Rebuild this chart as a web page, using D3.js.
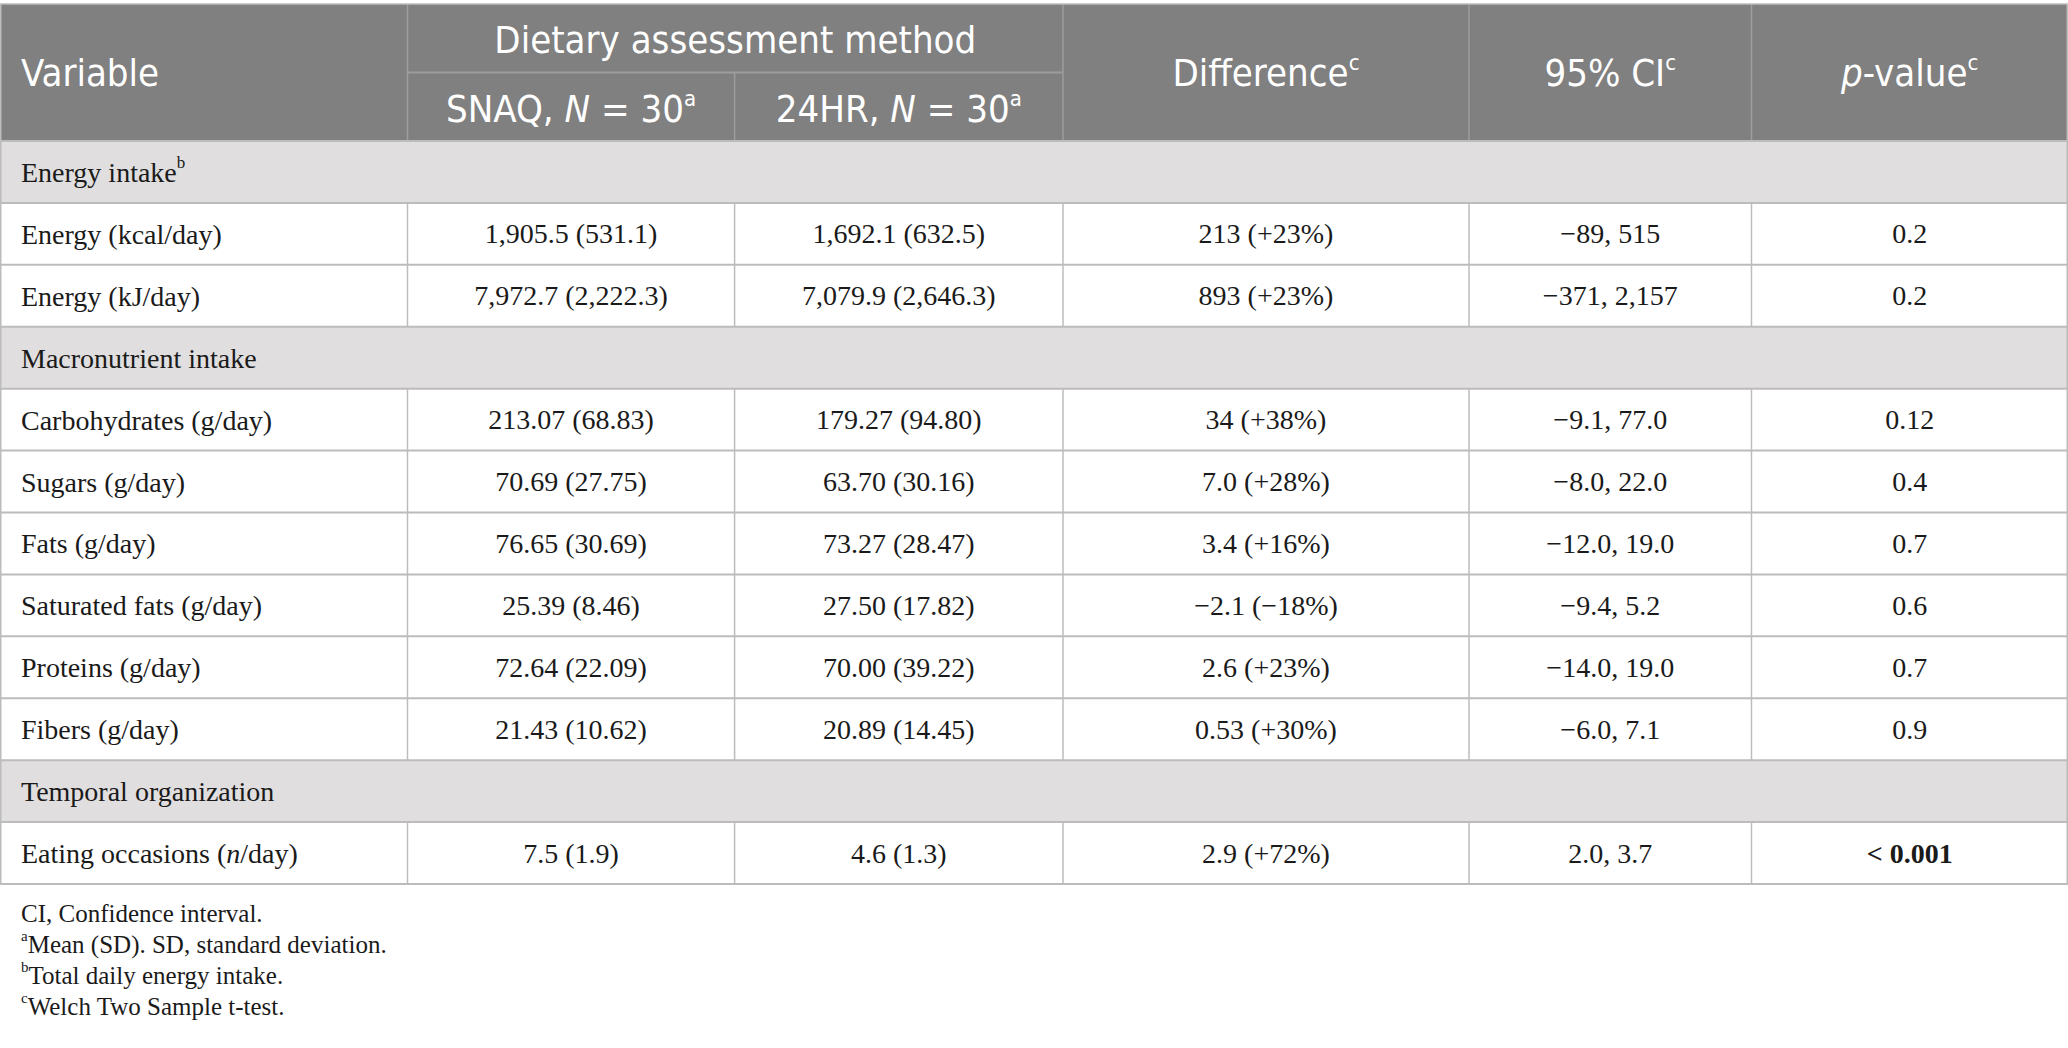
<!DOCTYPE html>
<html>
<head>
<meta charset="utf-8">
<script src="https://cdn.jsdelivr.net/npm/d3@7"></script>
<style>
  body { margin: 0; background: #fff; }
  svg { display: block; }
</style>
</head>
<body>
<svg id="table"></svg>
<script>
// table content
const headers = ["Variable", "Difference", "95% CI", "p-value"]
const groupHeader = "Dietary assessment method"
const subHeaders = ["SNAQ, ", "24HR, "]

const rowKinds = ["section", "row", "row", "section", "row", "row", "row", "row", "row", "row", "section", "row"]
const rowLabels = ["Energy intake", "Energy (kcal/day)", "Energy (kJ/day)", "Macronutrient intake",
    "Carbohydrates (g/day)", "Sugars (g/day)", "Fats (g/day)", "Saturated fats (g/day)",
    "Proteins (g/day)", "Fibers (g/day)", "Temporal organization", "Eating occasions (n/day)"]
const snaq = ["", "1,905.5 (531.1)", "7,972.7 (2,222.3)", "", "213.07 (68.83)", "70.69 (27.75)",
    "76.65 (30.69)", "25.39 (8.46)", "72.64 (22.09)", "21.43 (10.62)", "", "7.5 (1.9)"]
const hr24 = ["", "1,692.1 (632.5)", "7,079.9 (2,646.3)", "", "179.27 (94.80)", "63.70 (30.16)",
    "73.27 (28.47)", "27.50 (17.82)", "70.00 (39.22)", "20.89 (14.45)", "", "4.6 (1.3)"]
const difference = ["", "213 (+23%)", "893 (+23%)", "", "34 (+38%)", "7.0 (+28%)", "3.4 (+16%)",
    "\u22122.1 (\u221218%)", "2.6 (+23%)", "0.53 (+30%)", "", "2.9 (+72%)"]
const ci95 = ["", "\u221289, 515", "\u2212371, 2,157", "", "\u22129.1, 77.0", "\u22128.0, 22.0",
    "\u221212.0, 19.0", "\u22129.4, 5.2", "\u221214.0, 19.0", "\u22126.0, 7.1", "", "2.0, 3.7"]
const pvalue = ["", "0.2", "0.2", "", "0.12", "0.4", "0.7", "0.6", "0.7", "0.9", "", "< 0.001"]
const footnotes = [["", "CI, Confidence interval."], ["a", "Mean (SD). SD, standard deviation."],
    ["b", "Total daily energy intake."], ["c", "Welch Two Sample t-test."]]

const width = 2068
const height = 1048
const colEdges = [0, 407.5, 734.6, 1063, 1469, 1751.5, 2068]
const headTop = 4
const headMid = 72.5
const headBottom = 141
const tableBottom = 884

const headFill = "#7f807f"
const sectionFill = "#e0dedf"
const lineColor = "#bcbcbc"
const sansFont = "'Liberation Sans Narrow', 'DejaVu Sans Condensed', 'Open Sans', sans-serif"
const serifFont = "'Liberation Serif', 'DejaVu Serif', serif"
const headSize = 38
const bodySize = 28

const svg = d3.select("#table")
    .attr("width", width)
    .attr("height", height)

const y = d3.scaleBand()
    .domain(d3.range(rowLabels.length))
    .range([headBottom, tableBottom])

// header block
svg.append("rect")
    .attr("x", 0).attr("y", headTop)
    .attr("width", width).attr("height", headBottom - headTop)
    .attr("fill", headFill)

// section bands
svg.selectAll("rect.section")
    .data(d3.range(rowLabels.length).filter(i => rowKinds[i] == "section"))
    .join("rect")
    .attr("class", "section")
    .attr("x", 0).attr("y", i => y(i))
    .attr("width", width).attr("height", y.bandwidth())
    .attr("fill", sectionFill)

// header lines
svg.append("line")
    .attr("x1", colEdges[1]).attr("x2", colEdges[3])
    .attr("y1", headMid).attr("y2", headMid)
    .attr("stroke", "#9c9d9c").attr("stroke-width", 2)

svg.selectAll("line.hv")
    .data([1, 3, 4, 5])
    .join("line")
    .attr("class", "hv")
    .attr("x1", i => colEdges[i]).attr("x2", i => colEdges[i])
    .attr("y1", headTop).attr("y2", headBottom)
    .attr("stroke", "#9c9d9c").attr("stroke-width", 1.5)

svg.append("line")
    .attr("x1", colEdges[2]).attr("x2", colEdges[2])
    .attr("y1", headMid).attr("y2", headBottom)
    .attr("stroke", "#9c9d9c").attr("stroke-width", 1.5)

// body vertical lines (only in data rows)
const dataRows = d3.range(rowLabels.length).filter(i => rowKinds[i] == "row")
for (const i of dataRows) {
    svg.selectAll(null)
        .data(colEdges.slice(1, -1))
        .join("line")
        .attr("x1", d => d).attr("x2", d => d)
        .attr("y1", y(i)).attr("y2", y(i) + y.bandwidth())
        .attr("stroke", lineColor).attr("stroke-width", 1.5)
}

// horizontal row lines
svg.selectAll("line.hr")
    .data(d3.range(rowLabels.length + 1))
    .join("line")
    .attr("class", "hr")
    .attr("x1", 0).attr("x2", width)
    .attr("y1", i => i < rowLabels.length ? y(i) : tableBottom)
    .attr("y2", i => i < rowLabels.length ? y(i) : tableBottom)
    .attr("stroke", lineColor).attr("stroke-width", 2)

// outer border
svg.append("rect")
    .attr("x", 0.75).attr("y", headTop)
    .attr("width", width - 1.5).attr("height", tableBottom - headTop)
    .attr("fill", "none")
    .attr("stroke", lineColor).attr("stroke-width", 1.5)

// header text
const headText = svg.append("g")
    .attr("font-family", sansFont)
    .attr("font-size", headSize)
    .attr("fill", "white")
    .attr("dominant-baseline", "central")

headText.append("text")
    .attr("x", 21).attr("y", (headTop + headBottom) / 2)
    .text(headers[0])

headText.append("text")
    .attr("x", (colEdges[1] + colEdges[3]) / 2).attr("y", (headTop + headMid) / 2 + 2)
    .attr("text-anchor", "middle")
    .text(groupHeader)

subHeaders.forEach((s, i) => {
    const t = headText.append("text")
        .attr("x", (colEdges[i + 1] + colEdges[i + 2]) / 2).attr("y", (headMid + headBottom) / 2 + 2)
        .attr("text-anchor", "middle")
    t.append("tspan").text(s)
    t.append("tspan").attr("font-style", "italic").text("N")
    t.append("tspan").text(" = 30")
    t.append("tspan").attr("font-size", 22).attr("dy", -11).text("a")
})

headers.slice(1).forEach((h, i) => {
    const t = headText.append("text")
        .attr("x", (colEdges[i + 3] + colEdges[i + 4]) / 2).attr("y", (headTop + headBottom) / 2)
        .attr("text-anchor", "middle")
    if (h == "p-value") {
        t.append("tspan").attr("font-style", "italic").text("p")
        t.append("tspan").text("-value")
    } else {
        t.append("tspan").text(h)
    }
    t.append("tspan").attr("font-size", 22).attr("dy", -11).text("c")
})

// body text
const body = svg.append("g")
    .attr("font-family", serifFont)
    .attr("font-size", bodySize)
    .attr("fill", "#1a1a1a")
    .attr("dominant-baseline", "central")

rowLabels.forEach((label, i) => {
    const cy = y(i) + y.bandwidth() / 2
    const t = body.append("text").attr("x", 21).attr("y", cy)
    if (label.includes("(n/day)")) {
        t.append("tspan").text("Eating occasions (")
        t.append("tspan").attr("font-style", "italic").text("n")
        t.append("tspan").text("/day)")
    } else {
        t.append("tspan").text(label)
    }
    if (label == "Energy intake") {
        t.append("tspan").attr("font-size", 17).attr("dy", -10).text("b")
    }
    if (rowKinds[i] == "section") return
    const cells = [snaq[i], hr24[i], difference[i], ci95[i], pvalue[i]]
    cells.forEach((c, j) => {
        body.append("text")
            .attr("x", (colEdges[j + 1] + colEdges[j + 2]) / 2)
            .attr("y", cy)
            .attr("text-anchor", "middle")
            .attr("font-weight", c.startsWith("<") ? "bold" : null)
            .text(c)
    })
})

// footnotes
const foot = svg.append("g")
    .attr("font-family", serifFont)
    .attr("font-size", 25)
    .attr("fill", "#1a1a1a")
    .attr("dominant-baseline", "central")

const footY = d3.scalePoint()
    .domain(d3.range(footnotes.length))
    .range([913, 1006])

footnotes.forEach((f, i) => {
    const t = foot.append("text").attr("x", 21).attr("y", footY(i))
    if (f[0]) t.append("tspan").attr("font-size", 15).attr("dy", -8).text(f[0])
    t.append("tspan").attr("dy", f[0] ? 8 : 0).text(f[1])
})
</script>
</body>
</html>
